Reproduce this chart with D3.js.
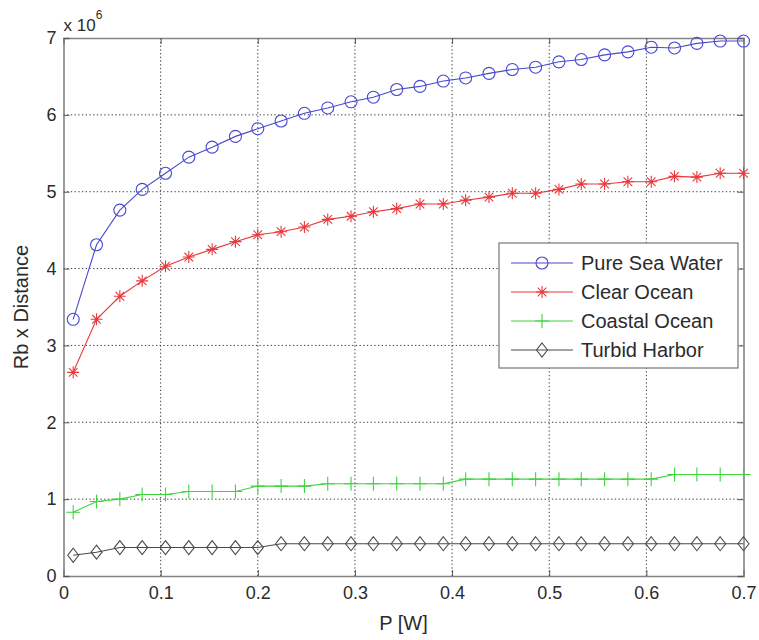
<!DOCTYPE html>
<html>
<head>
<meta charset="utf-8">
<script src="https://cdn.jsdelivr.net/npm/d3@7"></script>
<style>
body { margin: 0; background: #fff; }
text { font-family: "Liberation Sans", Arial, sans-serif; fill: #2b2b2b; }
</style>
</head>
<body>
<script>
const width = 759;
const height = 640;
const margin = {top: 38, right: 15.5, bottom: 64, left: 63.5};

// transmit power P [W]
const power = [0.010, 0.034, 0.058, 0.081, 0.105, 0.129, 0.153, 0.177, 0.200, 0.224,
    0.248, 0.272, 0.296, 0.319, 0.343, 0.367, 0.391, 0.414, 0.438, 0.462,
    0.486, 0.510, 0.533, 0.557, 0.581, 0.605, 0.629, 0.652, 0.676, 0.700];

// Rb x Distance, in units of 10^6
const pureSeaWater = [3.34, 4.31, 4.76, 5.03, 5.24, 5.45, 5.58, 5.72, 5.82, 5.92,
    6.02, 6.09, 6.17, 6.23, 6.33, 6.37, 6.44, 6.48, 6.54, 6.59,
    6.62, 6.69, 6.72, 6.78, 6.82, 6.88, 6.87, 6.93, 6.96, 6.96];
const clearOcean = [2.65, 3.34, 3.64, 3.84, 4.03, 4.15, 4.25, 4.35, 4.44, 4.48,
    4.54, 4.64, 4.68, 4.74, 4.78, 4.84, 4.84, 4.89, 4.93, 4.98,
    4.98, 5.03, 5.10, 5.10, 5.13, 5.13, 5.20, 5.19, 5.24, 5.24];
const coastalOcean = [0.83, 0.97, 1.00, 1.06, 1.06, 1.10, 1.10, 1.10, 1.17, 1.17,
    1.17, 1.20, 1.20, 1.20, 1.20, 1.20, 1.20, 1.26, 1.26, 1.26,
    1.26, 1.26, 1.26, 1.26, 1.26, 1.26, 1.32, 1.32, 1.32, 1.32];
const turbidHarbor = [0.27, 0.31, 0.37, 0.37, 0.37, 0.37, 0.37, 0.37, 0.37, 0.42,
    0.42, 0.42, 0.42, 0.42, 0.42, 0.42, 0.42, 0.42, 0.42, 0.42,
    0.42, 0.42, 0.42, 0.42, 0.42, 0.42, 0.42, 0.42, 0.42, 0.42];

const xTicks = [0, 0.1, 0.2, 0.3, 0.4, 0.5, 0.6, 0.7];
const yTicks = [0, 1, 2, 3, 4, 5, 6, 7];

const series = [
    {name: 'Pure Sea Water', values: pureSeaWater, color: '#4848d0', marker: 'circle'},
    {name: 'Clear Ocean', values: clearOcean, color: '#e8383c', marker: 'star'},
    {name: 'Coastal Ocean', values: coastalOcean, color: '#3ed43e', marker: 'plus'},
    {name: 'Turbid Harbor', values: turbidHarbor, color: '#4a4a4a', marker: 'diamond'}
];

const x = d3.scaleLinear().domain([0, 0.7]).range([margin.left, width - margin.right]);
const y = d3.scaleLinear().domain([0, 7]).range([height - margin.bottom, margin.top]);

const svg = d3.select('body').append('svg')
    .attr('width', width)
    .attr('height', height);

// dotted grid
const grid = svg.append('g').attr('class', 'grid')
    .attr('stroke', '#3a3a3a')
    .attr('stroke-width', 1)
    .attr('stroke-dasharray', '1.3,2.4');
grid.selectAll('.gx')
    .data(xTicks.slice(1, -1))
    .join('line')
    .attr('x1', d => x(d)).attr('x2', d => x(d))
    .attr('y1', y(0)).attr('y2', y(7));
grid.selectAll('.gy')
    .data(yTicks.slice(1, -1))
    .join('line')
    .attr('x1', x(0)).attr('x2', x(0.7))
    .attr('y1', d => y(d)).attr('y2', d => y(d));

// axes with inward ticks on all four sides
const styleAxis = g => {
    g.select('.domain').attr('stroke', '#858585').attr('stroke-width', 1.6);
    g.selectAll('.tick line').attr('stroke', '#555');
    g.selectAll('.tick text').attr('font-size', 18).attr('fill', '#2b2b2b');
};
svg.append('g')
    .attr('transform', `translate(0,${y(0)})`)
    .call(d3.axisBottom(x).tickValues(xTicks).tickFormat(d3.format('')).tickSize(-6).tickPadding(10))
    .call(styleAxis);
svg.append('g')
    .attr('transform', `translate(0,${y(7)})`)
    .call(d3.axisTop(x).tickValues(xTicks).tickFormat('').tickSize(-6))
    .call(styleAxis);
svg.append('g')
    .attr('transform', `translate(${x(0)},0)`)
    .call(d3.axisLeft(y).tickValues(yTicks).tickFormat(d3.format('d')).tickSize(-6).tickPadding(7))
    .call(styleAxis);
svg.append('g')
    .attr('transform', `translate(${x(0.7)},0)`)
    .call(d3.axisRight(y).tickValues(yTicks).tickFormat('').tickSize(-6))
    .call(styleAxis);
svg.selectAll('.tick text').attr('font-family', '"Liberation Sans", Arial, sans-serif');

// marker shapes
function markerPath(type) {
    if (type === 'star') {
        const r = 6, d = 4.3;
        return `M${-r},0H${r}M0,${-r}V${r}M${-d},${-d}L${d},${d}M${-d},${d}L${d},${-d}`;
    }
    if (type === 'plus') {
        const r = 7;
        return `M${-r},0H${r}M0,${-r}V${r}`;
    }
    if (type === 'diamond') {
        return 'M0,-7L5.5,0L0,7L-5.5,0Z';
    }
    return null;
}
function drawMarker(sel, s) {
    if (s.marker === 'circle') {
        sel.append('circle').attr('r', 6)
            .attr('fill', 'none').attr('stroke', s.color).attr('stroke-width', 1.1);
    } else {
        sel.append('path').attr('d', markerPath(s.marker))
            .attr('fill', 'none').attr('stroke', s.color).attr('stroke-width', 1.1);
    }
}

const line = d3.line()
    .x((d, i) => x(power[i]))
    .y(d => y(d));

series.forEach(s => {
    const g = svg.append('g');
    g.append('path')
        .datum(s.values)
        .attr('fill', 'none')
        .attr('stroke', s.color)
        .attr('stroke-width', 1.1)
        .attr('d', line);
    g.selectAll('.m')
        .data(s.values)
        .join('g')
        .attr('transform', (d, i) => `translate(${x(power[i])},${y(d)})`)
        .each(function() { drawMarker(d3.select(this), s); });
});

// exponent label
const expo = svg.append('text')
    .attr('x', x(0))
    .attr('y', 31)
    .attr('font-size', 17);
expo.append('tspan').text('x 10');
expo.append('tspan').attr('dy', -12).attr('font-size', 12).text('6');

// axis labels
svg.append('text')
    .attr('x', (x(0) + x(0.7)) / 2)
    .attr('y', 630)
    .attr('text-anchor', 'middle')
    .attr('font-size', 20)
    .text('P [W]');
svg.append('text')
    .attr('transform', `translate(28,${(y(0) + y(7)) / 2}) rotate(-90)`)
    .attr('text-anchor', 'middle')
    .attr('font-size', 20)
    .text('Rb x Distance');

// legend
const legend = svg.append('g').attr('transform', 'translate(499,243)');
legend.append('rect')
    .attr('width', 239)
    .attr('height', 125)
    .attr('fill', '#fff')
    .attr('stroke', '#777')
    .attr('stroke-width', 1.2);
series.forEach((s, i) => {
    const row = legend.append('g').attr('transform', `translate(0,${20 + i * 29})`);
    row.append('line')
        .attr('x1', 12).attr('x2', 74)
        .attr('stroke', s.color).attr('stroke-width', 1.1);
    const m = row.append('g').attr('transform', 'translate(43,0)');
    drawMarker(m, s);
    row.append('text')
        .attr('x', 82)
        .attr('dy', '0.36em')
        .attr('font-size', 20)
        .text(s.name);
});
</script>
</body>
</html>
